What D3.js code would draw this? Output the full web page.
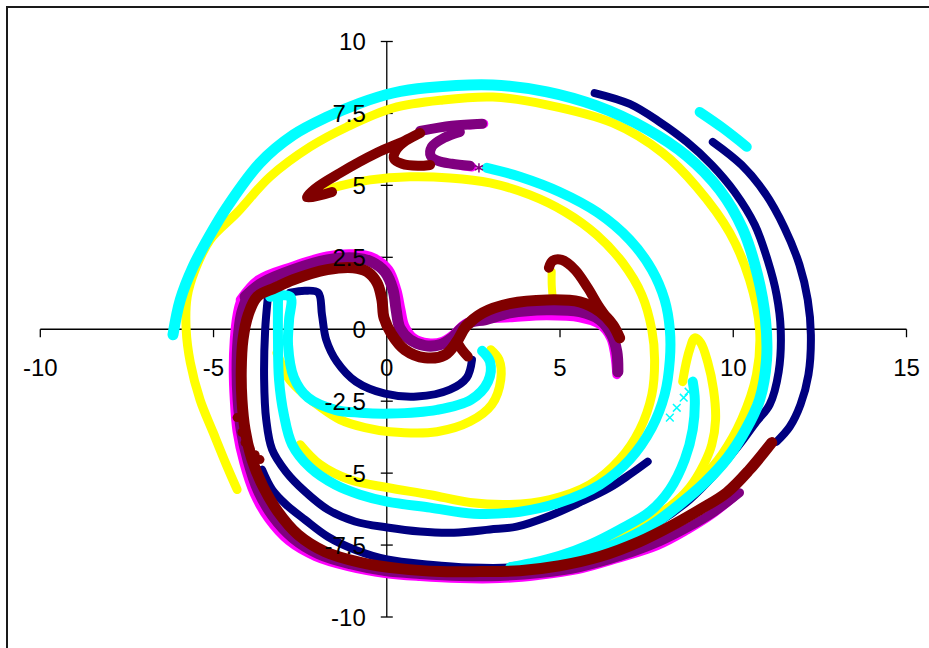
<!DOCTYPE html>
<html>
<head>
<meta charset="utf-8">
<script src="https://cdn.jsdelivr.net/npm/d3@7"></script>
<style>
body{margin:0;background:#fff;overflow:hidden}
text{font-family:"Liberation Sans",Arial,sans-serif}
</style>
</head>
<body>
<div id="chart"></div>
<script>
var width = 929
var height = 648

// axis ticks
var xTicks = [-10,-5,0,5,10,15]
var yTicks = [-10,-7.5,-5,-2.5,0,2.5,5,7.5,10]

// series 1 (navy, diamonds)
var navyOuterArc = [[9.41,6.51],[10.24,5.71],[10.91,4.74],[11.48,3.52],[11.91,2.24],[12.15,1.02],[12.24,-0.19],[12.17,-1.58],[11.94,-2.62],[11.63,-3.39],[11.25,-3.91]]
var navyLong = [[6.00,8.21],[7.01,7.83],[7.88,7.20],[8.66,6.51],[9.38,5.71],[10.04,4.77],[10.62,3.63],[10.99,2.41],[11.25,1.20],[11.37,-0.02],[11.31,-1.48],[11.05,-2.62],[10.67,-3.21],[10.18,-4.01],[9.46,-5.05],[8.74,-5.92],[7.88,-6.68],[6.87,-7.31],[5.86,-7.76],[4.71,-8.11],[3.58,-8.28],[2.40,-8.28],[1.25,-8.18],[0.01,-8.00],[-0.92,-7.66],[-1.70,-7.21],[-2.36,-6.62],[-2.91,-6.09],[-3.31,-5.57],[-3.60,-4.88]]
var navyMid = [[-3.43,1.13],[-3.51,-0.02],[-3.54,-1.75],[-3.48,-3.14],[-3.31,-4.18],[-2.91,-4.95],[-2.36,-5.64],[-1.70,-6.27],[-0.92,-6.68],[0.01,-6.89],[0.96,-7.03],[1.94,-7.07],[2.98,-6.96],[3.75,-6.86],[4.71,-6.48],[5.57,-6.02],[6.44,-5.50],[7.01,-5.05],[7.53,-4.60]]
var navyInner = [[-2.79,1.27],[-2.36,1.34],[-1.98,1.27],[-1.87,0.50],[-1.75,-0.36],[-1.44,-1.13],[-0.89,-1.82],[-0.05,-2.24],[0.87,-2.34],[1.82,-2.10],[2.31,-1.68],[2.46,-1.06]]

// series 2 (magenta, squares)
var magentaLower = [[10.04,-5.85],[9.38,-6.48],[8.69,-7.00],[7.82,-7.55],[6.67,-8.00],[5.51,-8.39],[4.36,-8.59],[3.26,-8.70],[2.11,-8.70],[0.96,-8.63],[-0.05,-8.52],[-1.12,-8.28],[-2.07,-7.93],[-2.85,-7.38],[-3.43,-6.62],[-3.86,-5.71],[-4.15,-4.67],[-4.35,-3.56],[-4.43,-2.45],[-4.46,-1.41],[-4.43,-0.36],[-4.35,0.50],[-4.23,1.02],[-3.94,1.37]]
var magentaS = [[-4.23,1.02],[-3.71,1.72],[-2.70,2.20],[-1.72,2.55],[-0.92,2.62],[-0.37,2.48],[0.06,2.07],[0.29,1.37],[0.41,0.68],[0.52,0.12],[0.78,-0.30],[1.19,-0.47],[1.59,-0.43],[1.94,-0.16],[2.25,0.19],[2.63,0.33],[3.55,0.40],[4.62,0.47],[5.57,0.40],[6.15,0.16],[6.46,-0.30],[6.58,-0.89],[6.64,-1.58]]
var magentaTop = [[2.40,7.10],[2.80,7.14]]
var magentaC = [[2.17,5.68],[2.46,5.64]]

// series 3 (yellow, triangles)
var yellowOuter = [[-4.32,-5.57],[-4.61,-4.77],[-5.01,-3.59],[-5.39,-2.45],[-5.67,-1.16],[-5.79,-0.02],[-5.76,1.13],[-5.53,2.07],[-5.10,3.11],[-4.32,4.05],[-3.37,5.30],[-2.21,6.34],[-1.15,7.03],[0.18,7.69],[1.62,7.97],[3.06,8.07],[4.62,7.80],[6.52,7.17],[7.96,6.13],[8.94,4.95],[9.90,3.35],[10.47,1.72],[10.76,-0.02],[10.67,-1.58],[10.24,-3.14],[9.67,-4.36],[8.94,-5.40],[8.22,-6.27],[7.59,-6.86],[6.87,-7.38]]
var yellowInner = [[-2.50,-4.01],[-1.93,-4.70],[-1.06,-5.23],[0.01,-5.50],[1.25,-5.75],[2.40,-6.02],[3.55,-6.09],[4.71,-5.92],[5.86,-5.40],[6.72,-4.53],[7.30,-3.49],[7.65,-2.27],[7.73,-1.06],[7.65,-0.02],[7.36,1.20],[6.81,2.31],[6.06,3.28],[5.14,4.08],[4.13,4.67],[2.98,5.09],[1.82,5.26],[0.67,5.30],[-0.48,5.19],[-1.35,4.98],[-1.78,4.81]]
var yellowInnerU = [[-3.17,-0.82],[-2.85,-1.68],[-2.47,-2.17],[-1.93,-2.69],[-1.35,-3.14],[-0.63,-3.42],[0.09,-3.56],[1.45,-3.56],[2.40,-3.21],[3.03,-2.62],[3.29,-1.75],[3.24,-1.06],[3.00,-0.71]]
var yellowHook = [[8.54,-1.82],[8.63,-1.23],[8.74,-0.71],[8.89,-0.30],[9.06,-0.47],[9.26,-1.13],[9.43,-2.10],[9.49,-3.14],[9.38,-4.01],[9.15,-4.70],[8.74,-5.50],[8.17,-6.16],[7.45,-6.68],[6.67,-7.14],[6.00,-7.48]]
var yellowFin = [[4.76,2.00],[4.76,1.55],[4.79,1.09]]

// series 4 (cyan, crosses)
var cyanOuter = [[-6.17,-0.19],[-5.96,1.02],[-5.59,2.17],[-5.10,3.28],[-4.61,4.25],[-3.66,5.78],[-2.70,6.75],[-1.72,7.38],[-0.77,7.86],[0.18,8.21],[1.16,8.39],[3.06,8.49],[4.62,8.25],[6.06,7.76],[7.50,6.96],[8.66,6.02],[9.61,4.84],[10.27,3.49],[10.70,1.89],[10.93,0.33],[10.96,-1.06],[10.76,-2.45],[10.36,-3.49],[9.84,-4.46],[9.18,-5.33],[8.45,-6.09],[7.59,-6.86],[6.58,-7.48],[5.57,-7.90],[4.56,-8.14],[3.58,-8.28]]
var cyanInner = [[-3.14,1.02],[-3.14,-0.36],[-3.11,-1.75],[-2.97,-2.97],[-2.73,-4.01],[-2.21,-4.81],[-1.49,-5.40],[-0.77,-5.75],[0.01,-5.99],[1.25,-6.20],[2.51,-6.41],[3.84,-6.34],[4.99,-6.02],[6.15,-5.40],[7.01,-4.53],[7.65,-3.42],[8.02,-2.27],[8.17,-1.06],[8.17,-0.02],[8.02,1.02],[7.65,2.07],[7.01,3.11],[6.09,4.05],[4.99,4.77],[3.84,5.30],[2.89,5.61]]
var cyanInnerU = [[-3.37,1.13],[-2.79,1.13],[-2.82,0.33],[-2.85,-0.54],[-2.68,-1.68],[-2.27,-2.38],[-1.49,-2.80],[-0.77,-2.90],[0.09,-2.93],[1.45,-2.80],[2.43,-2.45],[2.92,-1.82],[2.98,-1.13],[2.75,-0.75]]
var cyanHook = [[8.83,-1.82],[8.89,-2.45],[8.83,-3.49],[8.60,-4.53],[8.17,-5.57],[7.59,-6.34],[6.72,-6.96],[5.86,-7.48],[4.99,-7.87],[4.13,-8.14],[3.58,-8.28]]
var cyanSmall = [[9.03,7.55],[9.69,7.00],[10.39,6.34]]
var cyanStray = [[8.17,-3.07],[8.37,-2.73],[8.57,-2.38],[8.71,-2.17]]

// series 5 (purple, stars)
var purpleLower = [[10.18,-5.68],[9.46,-6.34],[8.74,-6.86],[7.88,-7.38],[6.72,-7.90],[5.57,-8.28],[4.42,-8.49],[3.26,-8.59],[2.11,-8.59],[0.96,-8.52],[-0.05,-8.42],[-1.06,-8.18],[-1.98,-7.83],[-2.73,-7.27],[-3.31,-6.51],[-3.74,-5.61],[-4.03,-4.57],[-4.23,-3.49],[-4.32,-2.45],[-4.35,-1.41],[-4.32,-0.36],[-4.23,0.50],[-4.09,1.02]]
var purpleS = [[-4.09,1.13],[-3.60,1.61],[-2.70,2.07],[-1.72,2.41],[-0.92,2.48],[-0.43,2.34],[-0.05,1.99],[0.18,1.37],[0.27,0.68],[0.38,0.05],[0.67,-0.36],[1.10,-0.57],[1.53,-0.54],[1.88,-0.30],[2.17,0.05],[2.46,0.26],[2.83,0.33],[3.55,0.57],[4.62,0.68],[5.57,0.61],[6.15,0.33],[6.49,-0.19],[6.64,-0.78],[6.67,-1.48]]
var purpleTop = [[0.96,6.89],[1.88,7.07],[2.75,7.14]]
var purpleC = [[2.11,6.86],[1.65,6.65],[1.30,6.34],[1.27,6.02],[1.48,5.85],[1.88,5.75],[2.40,5.68]]
var purpleStray = [[2.66,5.61]]

// series 6 (maroon, circles)
var maroonMain = [[11.11,-3.94],[10.47,-4.88],[9.81,-5.68],[9.03,-6.27],[8.17,-6.86],[7.30,-7.38],[6.15,-7.90],[4.99,-8.22],[3.84,-8.39],[2.69,-8.42],[1.53,-8.42],[0.38,-8.32],[-0.77,-8.10],[-1.78,-7.73],[-2.56,-7.14],[-3.14,-6.34],[-3.57,-5.47],[-3.89,-4.53],[-4.09,-3.49],[-4.18,-2.45],[-4.20,-1.41],[-4.15,-0.36],[-4.00,0.50],[-3.74,1.13],[-3.22,1.44],[-2.70,1.72],[-1.72,2.07],[-0.97,2.14],[-0.57,2.00],[-0.28,1.61],[-0.14,1.02],[-0.08,0.40],[0.15,-0.19],[0.52,-0.71],[1.10,-0.99],[1.68,-0.89],[2.02,-0.43],[2.28,0.09],[2.77,0.57],[3.55,0.89],[4.62,1.02],[5.57,0.95],[6.15,0.61],[6.52,0.16],[6.72,-0.30]]
var maroonFoot = [[2.02,-0.43],[2.17,-0.71],[2.34,-0.95]]
var maroonFin = [[4.68,2.14],[4.79,2.38],[5.05,2.41],[5.43,2.07],[5.80,1.44],[6.09,0.85],[6.35,0.40]]
var maroonTop = [[-1.58,4.77],[-2.30,4.57],[-2.07,4.88],[-1.35,5.43],[-0.28,6.13],[0.52,6.55],[0.96,6.82],[0.55,6.55],[0.27,6.23],[0.21,5.92],[0.44,5.75],[0.90,5.68],[1.25,5.71]]
var maroonStray = [[-4.32,-3.07],[-4.18,-3.59],[-4.09,-3.94],[-3.94,-4.18],[-3.80,-4.36],[-3.66,-4.53]]

var navy = "#000080", magenta = "#FF00FF", yellow = "#FFFF00", cyan = "#00FFFF", purple = "#800080", maroon = "#800000"

// drawing order follows the series order
var curves = [
	[navyOuterArc,navy,8],[navyLong,navy,8],[navyMid,navy,8],[navyInner,navy,8],
	[magentaLower,magenta,7],[magentaS,magenta,9],[magentaTop,magenta,9],[magentaC,magenta,9],
	[yellowOuter,yellow,9],[yellowInner,yellow,9],[yellowInnerU,yellow,9],[yellowHook,yellow,9],[yellowFin,yellow,8],
	[cyanOuter,cyan,11],[cyanInner,cyan,10],[cyanInnerU,cyan,10],[cyanHook,cyan,10],[cyanSmall,cyan,10],
	[purpleLower,purple,9],[purpleS,purple,11],[purpleTop,purple,10],[purpleC,purple,10],
	[maroonMain,maroon,11],[maroonFoot,maroon,10],[maroonFin,maroon,10],[maroonTop,maroon,10]
]

var svg = d3.select("#chart").append("svg")
	.attr("width",width)
	.attr("height",height)

svg.append("rect")
	.attr("x",7).attr("y",7)
	.attr("width",950).attr("height",670)
	.attr("fill","#fff")
	.attr("stroke","#1a1a1a")
	.attr("stroke-width",2)

var x = d3.scaleLinear().domain([-10,15]).range([40.3,906.5])
var y = d3.scaleLinear().domain([-10,10]).range([617,41.5])

// axis lines sit below the series
var axisLines = svg.append("g")
axisLines.append("line")
	.attr("x1",x(-10)).attr("x2",x(15))
	.attr("y1",y(0)).attr("y2",y(0))
	.attr("stroke","#000").attr("stroke-width",1.3)
axisLines.append("line")
	.attr("x1",x(0)).attr("x2",x(0))
	.attr("y1",y(10)).attr("y2",y(-10))
	.attr("stroke","#000").attr("stroke-width",1.3)
axisLines.selectAll(".xt")
	.data(xTicks)
	.enter()
	.append("line")
	.attr("x1",function(d){return x(d)}).attr("x2",function(d){return x(d)})
	.attr("y1",y(0)).attr("y2",y(0)+8)
	.attr("stroke","#000").attr("stroke-width",1.3)
axisLines.selectAll(".yt")
	.data(yTicks)
	.enter()
	.append("line")
	.attr("x1",x(0)-6).attr("x2",x(0)+6)
	.attr("y1",function(d){return y(d)}).attr("y2",function(d){return y(d)})
	.attr("stroke","#000").attr("stroke-width",1.3)

var line = d3.line()
	.x(function(d){return x(d[0])})
	.y(function(d){return y(d[1])})
	.curve(d3.curveCatmullRom.alpha(0.5))

svg.append("g").selectAll("path")
	.data(curves)
	.enter()
	.append("path")
	.attr("d",function(d){return line(d[0])})
	.attr("fill","none")
	.attr("stroke",function(d){return d[1]})
	.attr("stroke-width",function(d){return d[2]})
	.attr("stroke-linecap","round")
	.attr("stroke-linejoin","round")

// stray markers
svg.append("g").selectAll("path")
	.data(cyanStray)
	.enter()
	.append("path")
	.attr("d",d3.symbol().type(d3.symbolTimes).size(40))
	.attr("transform",function(d){return "translate("+x(d[0])+","+y(d[1])+")"})
	.attr("fill","none").attr("stroke",cyan).attr("stroke-width",1.5)
svg.append("g").selectAll("path")
	.data(purpleStray)
	.enter()
	.append("path")
	.attr("d",d3.symbol().type(d3.symbolAsterisk).size(60))
	.attr("transform",function(d){return "translate("+x(d[0])+","+y(d[1])+")"})
	.attr("fill","none").attr("stroke",purple).attr("stroke-width",1.5)
svg.append("g").selectAll("circle")
	.data(maroonStray)
	.enter()
	.append("circle")
	.attr("cx",function(d){return x(d[0])})
	.attr("cy",function(d){return y(d[1])})
	.attr("r",4.5)
	.attr("fill",maroon)

// tick labels on top
svg.append("g").selectAll("text")
	.data(xTicks)
	.enter()
	.append("text")
	.attr("x",function(d){return x(d)})
	.attr("y",y(0)+47)
	.attr("text-anchor","middle")
	.style("font-size","24px")
	.text(function(d){return d})
svg.append("g").selectAll("text")
	.data(yTicks)
	.enter()
	.append("text")
	.attr("x",x(0)-21)
	.attr("y",function(d){return y(d)+8.6})
	.attr("text-anchor","end")
	.style("font-size","24px")
	.text(function(d){return d})
</script>
</body>
</html>
